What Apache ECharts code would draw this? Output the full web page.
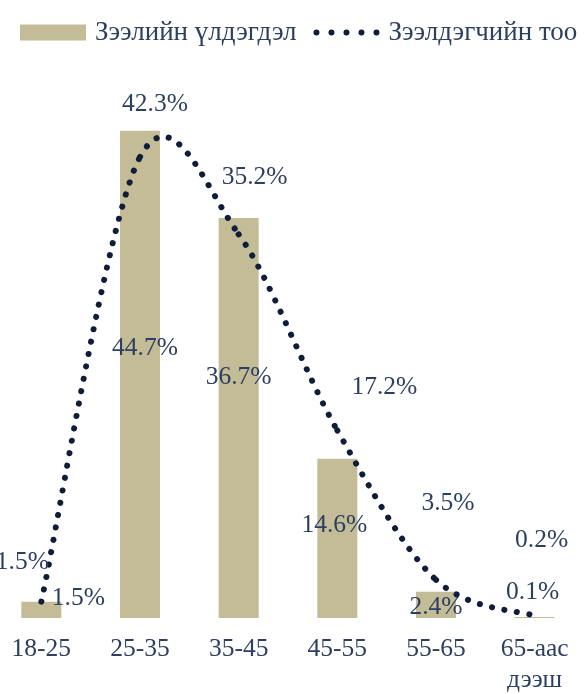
<!DOCTYPE html>
<html>
<head>
<meta charset="utf-8">
<script src="https://cdn.jsdelivr.net/npm/echarts@6/dist/echarts.min.js"></script>
<style>
  html, body { margin: 0; padding: 0; background: #fff; }
  #chart { width: 585px; height: 694px; }
</style>
</head>
<body>
<div id="chart"></div>
<script>
// age groups
const categories = ['18-25', '25-35', '35-45', '45-55', '55-65', '65-аас\nдээш']
// loan balance share, %
const loanShare = [1.5, 44.7, 36.7, 14.6, 2.4, 0.1]
// borrower count share, %
const borrowerShare = [1.5, 42.3, 35.2, 17.2, 3.5, 0.2]

const seriesNames = ['Зээлийн үлдэгдэл', 'Зээлдэгчийн тоо']

// label offsets (layout only), relative to bar centre / line point
const barLabelOffset = [[37, -12], [5, -26], [0, -41], [-3, -13], [0, 2], [-2, -25]]
const lineLabelOffset = [[-19, -39], [15, -53], [16, -57], [47, -43], [12, -77], [7, -76]]

const TEXT = '#2b3f60'
const DOT = '#0e1d3a'
const BAR = '#c4bc96'
const FONT = '"Liberation Serif", "Times New Roman", serif'
const DOT_DASH = [0.1, 12.5]

// five dots for the legend icon
const dotsIcon = 'path://' + [3, 18, 33, 48, 63]
  .map((cx) => `M${cx - 3},3a3,3 0 1,0 6,0a3,3 0 1,0 -6,0Z`)
  .join('')

// excel-like smoothed line: catmull-rom segments built on axis coordinates
function renderSmoothSegment(params, api) {
  const i = params.dataIndex
  const n = borrowerShare.length
  if (i >= n - 1) return null
  const pt = (k) => {
    const idx = Math.max(0, Math.min(n - 1, k))
    return api.coord([idx, borrowerShare[idx]])
  }
  const p0 = pt(i - 1)
  const p1 = pt(i)
  const p2 = pt(i + 1)
  const p3 = pt(i + 2)
  return {
    type: 'bezierCurve',
    shape: {
      x1: p1[0],
      y1: p1[1],
      x2: p2[0],
      y2: p2[1],
      cpx1: p1[0] + (p2[0] - p0[0]) / 6,
      cpy1: p1[1] + (p2[1] - p0[1]) / 6,
      cpx2: p2[0] - (p3[0] - p1[0]) / 6,
      cpy2: p2[1] - (p3[1] - p1[1]) / 6
    },
    style: {
      fill: null,
      stroke: DOT,
      lineWidth: 6,
      lineDash: DOT_DASH,
      lineCap: 'round'
    }
  }
}

const chart = echarts.init(document.getElementById('chart'))

const option = {
  backgroundColor: '#fff',
  textStyle: { fontFamily: FONT },
  legend: {
    top: 14,
    left: 15,
    itemWidth: 66,
    itemHeight: 16,
    itemGap: 17,
    textStyle: { fontFamily: FONT, fontSize: 27, color: TEXT, padding: [0, 0, 0, 4] },
    data: [
      { name: seriesNames[0], icon: 'rect' },
      { name: seriesNames[1], icon: dotsIcon, itemStyle: { color: DOT } }
    ]
  },
  grid: {
    left: -8,
    right: 1,
    top: 73,
    bottom: 76,
    outerBoundsMode: 'none'
  },
  xAxis: {
    type: 'category',
    data: categories,
    axisLine: { show: false },
    axisTick: { show: false },
    axisLabel: {
      margin: 16,
      fontFamily: FONT,
      fontSize: 25.5,
      lineHeight: 31,
      color: TEXT
    }
  },
  yAxis: {
    type: 'value',
    min: 0,
    max: 50,
    show: false,
    splitLine: { show: false }
  },
  series: [
    {
      name: seriesNames[0],
      type: 'bar',
      barWidth: 40,
      itemStyle: { color: BAR },
      data: loanShare.map((v, i) => ({
        value: v,
        label: { offset: barLabelOffset[i] }
      })),
      label: {
        show: true,
        position: 'inside',
        fontFamily: FONT,
        fontSize: 25.5,
        color: TEXT,
        formatter: (p) => p.value.toFixed(1) + '%'
      }
    },
    {
      // labels only, the line itself is drawn by the custom series below
      name: seriesNames[1],
      type: 'line',
      symbol: 'circle',
      symbolSize: 0.1,
      showSymbol: true,
      itemStyle: { color: DOT },
      lineStyle: { width: 0, opacity: 0 },
      data: borrowerShare.map((v, i) => ({
        value: v,
        label: { offset: lineLabelOffset[i] }
      })),
      label: {
        show: true,
        position: 'inside',
        fontFamily: FONT,
        fontSize: 25.5,
        color: TEXT,
        formatter: (p) => p.value.toFixed(1) + '%'
      },
      z: 4
    },
    {
      type: 'custom',
      coordinateSystem: 'cartesian2d',
      renderItem: renderSmoothSegment,
      encode: { x: 0, y: 1 },
      data: borrowerShare.map((v, i) => [i, v]),
      silent: true,
      z: 3
    }
  ]
}

chart.setOption(option)
</script>
</body>
</html>
